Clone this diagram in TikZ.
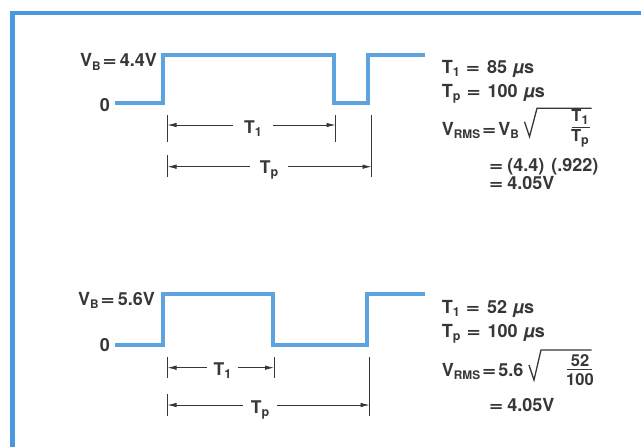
\documentclass[tikz,border=0pt]{standalone}
\usepackage{fontspec}
\setmainfont{TeX Gyre Heros}
\usepackage{graphicx}
\usetikzlibrary{arrows.meta}
\definecolor{wave}{RGB}{92,163,224}
\definecolor{framecol}{RGB}{75,152,222}
\definecolor{ink}{RGB}{55,55,55}
\newcommand\eqsign{\scalebox{1.35}[1]{=}}
\newcommand\sbs[1]{\raisebox{-0.35ex}{\fontsize{12.5}{13}\selectfont #1}}
\newcommand\sbsm[1]{\raisebox{-0.35ex}{\fontsize{11.8}{13}\selectfont #1}}
\begin{document}
\begin{tikzpicture}[x=1pt,y=-1pt,
 wavestyle/.style={draw=wave, line width=4pt, line join=miter},
 framestyle/.style={draw=framecol, line width=4.5pt, line join=miter},
 tick/.style={draw=ink, line width=0.8pt},
 dim/.style={draw=ink, line width=0.8pt, -{Latex[length=9pt,width=4.5pt]}},
 txt/.style={text=ink, inner sep=0pt, font=\fontsize{18}{21}\selectfont\bfseries},
 dlbl/.style={text=ink, inner sep=0pt, anchor=base, font=\fontsize{17.5}{20}\selectfont\bfseries},
 fracs/.style={text=ink, inner sep=0pt, anchor=base, font=\fontsize{16.5}{19}\selectfont\bfseries},
 rad/.style={draw=ink, line width=1.3pt, line join=miter},
 bar/.style={draw=ink, line width=1.3pt},
]
\clip (0,0) rectangle (641,447);
\fill[white] (0,0) rectangle (641,447);
\draw[framestyle] (12.5,449) -- (12.5,13) -- (643,13);

% ---------- top waveform ----------
\draw[wavestyle] (115,102.6) -- (163,102.6) -- (163,55) -- (334,55) -- (334,102.6)
  -- (368,102.6) -- (368,55) -- (425,55);
\node[txt, anchor=base east] (vb1) at (157,66.7) {V\sbsm{B}\hspace{2pt}\eqsign\hspace{3pt}4.4V};
\node[txt, anchor=base] (z1) at (105,111.5) {0};

% dimension ticks
\draw[tick] (167.5,115) -- (167.5,141.5);
\draw[tick] (167.5,155) -- (167.5,177);
\draw[tick] (335.5,115) -- (335.5,141.5);
\draw[tick] (371.5,115) -- (371.5,177);
\coordinate (t1L) at (167.5,125);
\coordinate (t1R) at (335.5,125);
\coordinate (tpL) at (167.5,166.7);
\coordinate (tpR) at (371.5,166.7);
\node[dlbl, minimum width=40pt] (lt1) at (253,133) {T\sbs{1}};
\node[dlbl, minimum width=38pt] (ltp) at (269,173) {T\sbs{p}};
\draw[dim] (lt1.west |- t1L) -- (t1L);
\draw[dim] (lt1.east |- t1R) -- (t1R);
\draw[dim] (ltp.west |- tpL) -- (tpL);
\draw[dim] (ltp.east |- tpR) -- (tpR);

% right text block
\node[txt, anchor=base west] (a1) at (441.7,73) {T\sbs{1}\hspace{6pt}\eqsign\hspace{7pt}85\hspace{6pt}\textit{µ}s};
\node[txt, anchor=base west] (a2) at (441.7,97) {T\sbs{p}\hspace{6pt}\eqsign\hspace{7pt}100\hspace{6pt}\textit{µ}s};
\node[txt, anchor=base west] (a3) at (441.7,135) {V\sbsm{RMS}\hspace{2pt}\eqsign\hspace{2pt}V\sbsm{B}};
\draw[rad] (524.5,121.7) -- (529.5,136.7) -- (537,108.3) -- (591.7,108.3);
\node[fracs] (fn1) at (580,121.7) {T\sbs{1}};
\node[fracs] (fd1) at (580,141.7) {T\sbs{p}};
\draw[bar] (571.7,127.3) -- (590,127.3);
\node[txt, anchor=base west] (a4) at (489,171) {\eqsign\hspace{4pt}(4.4)\hspace{7pt}(.922)};
\node[txt, anchor=base west] (a5) at (489,189) {\eqsign\hspace{4pt}4.05V};

% ---------- bottom waveform ----------
\draw[wavestyle] (115,345) -- (163,345) -- (163,294) -- (273,294) -- (273,345)
  -- (367,345) -- (367,294) -- (425,294);
\node[txt, anchor=base east] (vb2) at (155,305) {V\sbsm{B}\hspace{2pt}\eqsign\hspace{3pt}5.6V};
\node[txt, anchor=base] (z2) at (105,351.5) {0};

\draw[tick] (167.5,357) -- (167.5,378);
\draw[tick] (167.5,394) -- (167.5,416);
\draw[tick] (274,357) -- (274,378);
\draw[tick] (369.5,357) -- (369.5,416);
\coordinate (b1L) at (167.5,367.7);
\coordinate (b1R) at (274,367.7);
\coordinate (bpL) at (167.5,405);
\coordinate (bpR) at (369.5,405);
\node[dlbl, minimum width=31pt] (lb1) at (222.5,375) {T\sbs{1}};
\node[dlbl, minimum width=34pt] (lbp) at (260,413) {T\sbs{p}};
\draw[dim] (lb1.west |- b1L) -- (b1L);
\draw[dim] (lb1.east |- b1R) -- (b1R);
\draw[dim] (lbp.west |- bpL) -- (bpL);
\draw[dim] (lbp.east |- bpR) -- (bpR);

\node[txt, anchor=base west] (c1) at (441.7,313) {T\sbs{1}\hspace{6pt}\eqsign\hspace{7pt}52\hspace{6pt}\textit{µ}s};
\node[txt, anchor=base west] (c2) at (441.7,337) {T\sbs{p}\hspace{6pt}\eqsign\hspace{7pt}100\hspace{6pt}\textit{µ}s};
\node[txt, anchor=base west] (c3) at (441.7,376.5) {V\sbsm{RMS}\hspace{2pt}\eqsign\hspace{2pt}5.6};
\draw[rad] (529,365) -- (534,380) -- (541,350) -- (591.7,350);
\node[fracs] (fn2) at (580,366.7) {52};
\node[fracs] (fd2) at (580,385) {100};
\draw[bar] (567,369.5) -- (592,369.5);
\node[txt, anchor=base west] (c5) at (489,411.7) {\eqsign\hspace{4pt}4.05V};
\end{tikzpicture}
\end{document}
